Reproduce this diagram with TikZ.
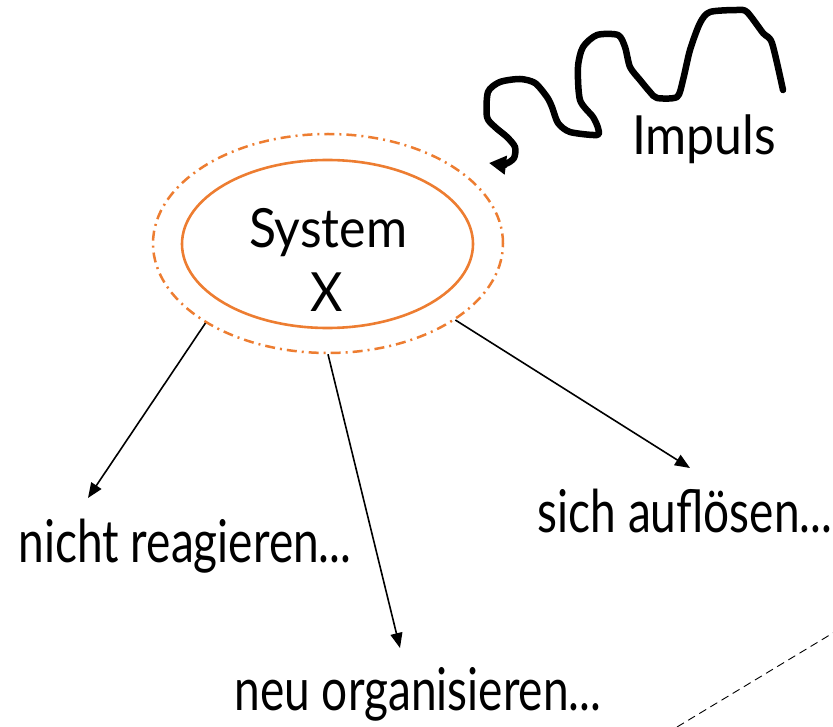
\documentclass[tikz,border=0pt]{standalone}
\usepackage{fontspec}
\setmainfont{Lato}
\newfontfamily\lblfont[FakeStretch=0.78]{Lato}
\newfontfamily\sysfont[FakeStretch=0.925]{Lato}
\usetikzlibrary{shapes.geometric,arrows.meta}
\definecolor{sysorange}{HTML}{ED7D31}
\begin{document}
\begin{tikzpicture}[x=1pt,y=-1pt,
  lbl/.style={inner sep=0pt, anchor=base, font=\lblfont\fontsize{59}{62}\selectfont},
  systext/.style={inner sep=0pt, anchor=base, font=\sysfont\fontsize{54}{60}\selectfont},
  ring/.style={ellipse, draw=sysorange, inner sep=0pt},
  outarrow/.style={-{Triangle[length=15pt,width=12pt]}, line width=1.6pt},
  impulsline/.style={-{Triangle[length=17pt,width=18pt]}, line width=6.5pt, line cap=round, line join=round},
  guideline/.style={line width=0.9pt, dash pattern=on 8pt off 5pt},
]
\useasboundingbox (0,0) rectangle (833,727);

% system rings
\node[ring, line width=2.5pt, dash pattern=on 10pt off 5pt on 2pt off 5pt,
      minimum width=350pt, minimum height=219pt] (outer) at (328,243.5) {};
\node[ring, line width=2.6pt, minimum width=291pt, minimum height=168pt] (inner) at (327.5,244) {};
\node[systext] (systxt) at (328,248) {System};
\node[systext] (xtxt) at (327,312) {X};

% labels
\node[lbl] (nicht) at (185,562) {nicht reagieren...};
\node[lbl] (sich) at (685,532) {sich auflösen...};
\node[lbl] (neu) at (418,710) {neu organisieren...};
\node[systext] (impuls) at (704,155) {Impuls};

% arrow tips
\coordinate (tipN) at (88,498);
\coordinate (tipO) at (400,648);
\coordinate (tipS) at (690,468);

\draw[outarrow] (outer.-147.9) -- (tipN);
\draw[outarrow] (outer.-90) -- (tipO);
\draw[outarrow] (outer.-31.7) -- (tipS);

% impulse squiggle
\coordinate (impStart) at (783,90);
\coordinate (impEnd) at (489,163);
\draw[impulsline] plot[smooth, tension=0.45] coordinates {
  (783,90) (772,43) (763,33) (747,12) (737,10) (710,12) (700,23) (690,50)
  (683,80) (677,97) (657,98) (650,92) (640,80) (630,67) (625,47) (618,35)
  (597,35) (583,47) (578,67) (580,100) (593,117) (598,128) (597,135)
  (570,132) (558,123) (552,107) (547,97) (535,83) (520,79) (500,82)
  (488,92) (487,117) (495,127) (507,137) (515,147) (514,158) (505,164) (489,163)};

% dashed guide line
\coordinate (g1) at (677,727);
\coordinate (g2) at (833,633);
\draw[guideline] (g1) -- (g2);
\end{tikzpicture}
\end{document}
